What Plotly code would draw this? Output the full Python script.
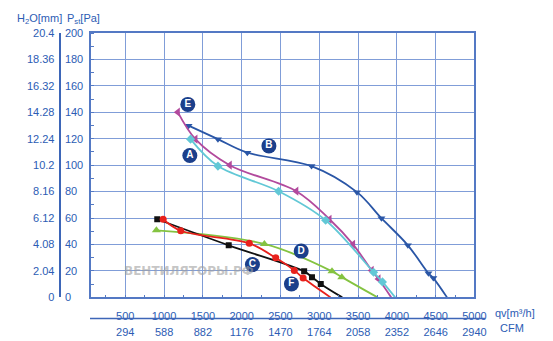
import plotly.graph_objects as go

# ---- data (flow in m3/h, static pressure in Pa); last point of each series is the free-air end (no marker)
B_q = [1316, 1694, 2073, 2900, 3486, 3801, 4142, 4407, 4470, 4646]
B_p = [129.9, 119.7, 109.5, 99.3, 79.6, 59.9, 39.4, 18.2, 14.6, 0]

E_q = [1177, 1404, 1846, 2704, 3132, 3435, 3675, 3763, 3927]
E_p = [140.1, 119.7, 100.0, 80.3, 59.1, 40.1, 20.4, 13.9, 0]

A_q = [1341, 1694, 2476, 3082, 3700, 3814, 3978]
A_p = [119.7, 99.3, 80.3, 58.4, 19.0, 11.7, 0]

C_q = [912, 1833, 2805, 2906, 3019, 3296]
C_p = [59.1, 39.4, 19.7, 15.3, 10.2, 0]

F_q = [988, 1215, 2098, 2439, 2678, 2792, 3145]
F_p = [59.1, 50.4, 40.9, 29.9, 20.4, 14.6, 0]

D_q = [901, 2293, 3164, 3290, 3750]
D_p = [50.7, 40.4, 19.7, 15.3, 0]

label_names = ["E", "A", "B", "D", "C", "F"]
label_q = [1306, 1332, 2351, 2767, 2139, 2641]
label_p = [146.0, 107.3, 114.6, 35.0, 24.8, 10.2]

x_ticks = [500, 1000, 1500, 2000, 2500, 3000, 3500, 4000, 4500, 5000]
x_ticktext = ["500", "1000", "1500", "2000", "2500", "3000", "3500", "4000", "4500", "5000"]
cfm_ticktext = ["294", "588", "882", "1176", "1470", "1764", "2058", "2352", "2646", "2940"]
pa_ticks = [0, 20, 40, 60, 80, 100, 120, 140, 160, 180, 200]
pa_ticktext = ["0", "20", "40", "60", "80", "100", "120", "140", "160", "180", "200"]
h2o_ticktext = ["0", "2.04", "4.08", "6.12", "8.16", "10.2", "12.24", "14.28", "16.32", "18.36", "20.4"]

# ---- styling
W, H = 553, 341
BLUE_TXT = "#2c5cb4"
AXIS_BLUE = "#5479c4"
GRID_BLUE = "#809dd8"
FONT = "Liberation Sans, Arial, sans-serif"

series = [
    (B_q, B_p, "#2a56a6", "triangle-down", 7),
    (E_q, E_p, "#b24a9d", "triangle-left", 8),
    (A_q, A_p, "#62c8d6", "diamond", 7),
    (D_q, D_p, "#84c341", "triangle-up", 8),
    (C_q, C_p, "#111111", "square", 6),
    (F_q, F_p, "#e8211c", "circle", 7),
]

fig = go.Figure()
for q, p, col, sym, sz in series:
    fig.add_trace(go.Scatter(x=q, y=p, mode="lines", line=dict(color=col, width=1.8, shape="spline"),
                             showlegend=False, hoverinfo="skip"))
    fig.add_trace(go.Scatter(x=q[:-1], y=p[:-1], mode="markers",
                             marker=dict(symbol=sym, size=sz, color=col),
                             showlegend=False, hoverinfo="skip"))

fig.add_trace(go.Scatter(x=label_q, y=label_p, mode="markers+text", text=label_names,
                         textposition="middle center",
                         textfont=dict(color="white", size=10, family="Liberation Sans, Arial", weight="bold"),
                         marker=dict(size=15, color="#1b3f8b"),
                         showlegend=False, hoverinfo="skip"))

# invisible helpers so the extra axes are drawn
fig.add_trace(go.Scatter(x=[None], y=[None], xaxis="x2", yaxis="y", showlegend=False, hoverinfo="skip"))
fig.add_trace(go.Scatter(x=[None], y=[None], xaxis="x", yaxis="y2", showlegend=False, hoverinfo="skip"))
fig.add_trace(go.Scatter(x=[None], y=[None], xaxis="x", yaxis="y3", showlegend=False, hoverinfo="skip"))

xl, xr = 93 / W, 485 / W
yb, yt = 1 - 302 / H, 1 - 28 / H
tickfont = dict(family=FONT, size=11, color=BLUE_TXT)

fig.update_layout(
    width=W, height=H, autosize=False,
    margin=dict(l=0, r=0, t=0, b=0),
    paper_bgcolor="white", plot_bgcolor="white",
    font=dict(family=FONT, color=BLUE_TXT),
    xaxis=dict(domain=[xl, xr], range=[58, 5000], anchor="y",
               tickmode="array", tickvals=x_ticks, ticktext=x_ticktext,
               showgrid=True, gridcolor=GRID_BLUE, gridwidth=1.4,
               showline=True, linecolor=AXIS_BLUE, linewidth=1.5, mirror=True,
               ticks="outside", ticklen=8, tickcolor="rgba(0,0,0,0)",
               tickfont=tickfont, zeroline=False,
               minor=dict(tickmode="linear", tick0=0, dtick=250, ticks="inside", ticklen=3,
                          tickcolor=AXIS_BLUE, showgrid=False)),
    xaxis2=dict(overlaying="x", anchor="free", position=17 / H, side="bottom",
                range=[58, 5000], tickmode="array", tickvals=x_ticks, ticktext=cfm_ticktext,
                showgrid=False, showline=False, zeroline=False,
                ticks="outside", ticklen=3, tickcolor="rgba(0,0,0,0)", tickfont=tickfont),
    yaxis=dict(domain=[yb, yt], range=[0, 200], anchor="x",
               tickmode="array", tickvals=pa_ticks, showticklabels=False,
               showgrid=True, gridcolor=GRID_BLUE, gridwidth=1.4,
               showline=True, linecolor=AXIS_BLUE, linewidth=1.5, mirror=True,
               ticks="", zeroline=False,
               minor=dict(tickmode="linear", tick0=0, dtick=10, ticks="inside", ticklen=3,
                          tickcolor=AXIS_BLUE, showgrid=False)),
    yaxis2=dict(overlaying="y", anchor="free", position=61 / W, side="right",
                range=[0, 200], tickmode="array", tickvals=pa_ticks, ticktext=pa_ticktext,
                showgrid=False, zeroline=False, showline=True, linecolor="#3d66b8", linewidth=2,
                ticks="outside", ticklen=2, tickcolor="rgba(0,0,0,0)", tickfont=tickfont),
    yaxis3=dict(overlaying="y", anchor="free", position=61 / W, side="left",
                range=[0, 200], tickmode="array", tickvals=pa_ticks, ticktext=h2o_ticktext,
                showgrid=False, zeroline=False, showline=False,
                ticks="outside", ticklen=3, tickcolor="rgba(0,0,0,0)", tickfont=tickfont),
    shapes=[dict(type="line", xref="paper", yref="paper", x0=92 / W, x1=496 / W,
                 y0=17 / H, y1=17 / H, line=dict(color="#3d66b8", width=1.5))],
    annotations=[
        dict(text="H<sub>2</sub>O[mm]", xref="paper", yref="paper", x=15 / W, y=1 - 13 / H,
             xanchor="left", yanchor="middle", showarrow=False, font=dict(size=11, color=BLUE_TXT)),
        dict(text="P<sub>st</sub>[Pa]", xref="paper", yref="paper", x=66 / W, y=1 - 13 / H,
             xanchor="left", yanchor="middle", showarrow=False, font=dict(size=11, color=BLUE_TXT)),
        dict(text="qv[m³/h]", xref="paper", yref="paper", x=504 / W, y=1 - 318 / H,
             xanchor="left", yanchor="middle", showarrow=False, font=dict(size=11, color=BLUE_TXT)),
        dict(text="CFM", xref="paper", yref="paper", x=509 / W, y=1 - 334 / H,
             xanchor="left", yanchor="middle", showarrow=False, font=dict(size=11, color=BLUE_TXT)),
        dict(text="ВЕНТИЛЯТОРЫ.РФ", xref="paper", yref="paper", x=193 / W, y=1 - 275 / H,
             xanchor="center", yanchor="middle", showarrow=False,
             font=dict(size=12, color="rgba(160,160,160,0.6)", family="DejaVu Sans", weight="bold")),
    ],
)

fig.write_html("out.html",
               post_script="document.body.style.margin='0';document.body.style.overflow='hidden';")
